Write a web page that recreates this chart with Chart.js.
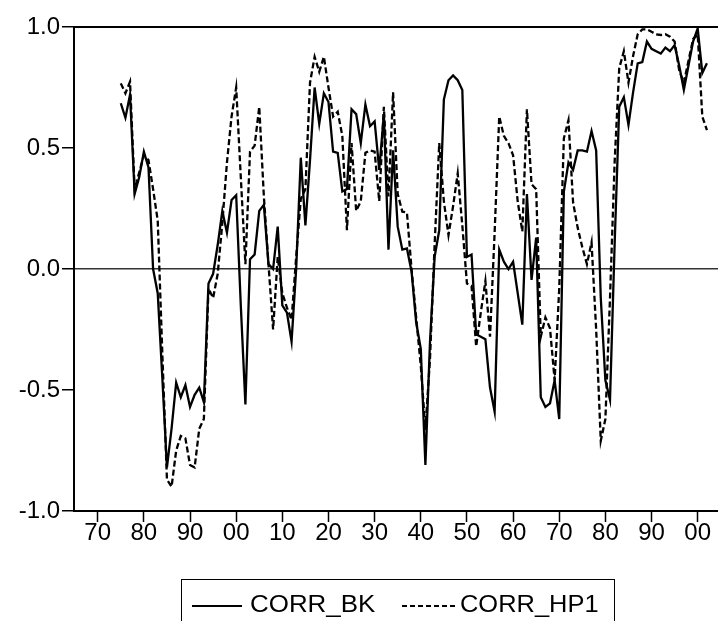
<!DOCTYPE html>
<html><head><meta charset="utf-8">
<script src="https://cdn.jsdelivr.net/npm/chart.js@4.4.1/dist/chart.umd.min.js"></script>
<style>html,body{margin:0;padding:0;background:#fff;overflow:hidden}
#wrap{position:relative;width:718px;height:621px}</style></head>
<body><div id="wrap"><canvas id="c" width="718" height="621"></canvas></div>
<script>
const years = [1875,1876,1877,1878,1879,1880,1881,1882,1883,1884,1885,1886,1887,1888,1889,1890,1891,1892,1893,1894,1895,1896,1897,1898,1899,1900,1901,1902,1903,1904,1905,1906,1907,1908,1909,1910,1911,1912,1913,1914,1915,1916,1917,1918,1919,1920,1921,1922,1923,1924,1925,1926,1927,1928,1929,1930,1931,1932,1933,1934,1935,1936,1937,1938,1939,1940,1941,1942,1943,1944,1945,1946,1947,1948,1949,1950,1951,1952,1953,1954,1955,1956,1957,1958,1959,1960,1961,1962,1963,1964,1965,1966,1967,1968,1969,1970,1971,1972,1973,1974,1975,1976,1977,1978,1979,1980,1981,1982,1983,1984,1985,1986,1987,1988,1989,1990,1991,1992,1993,1994,1995,1996,1997,1998,1999,2000,2001,2002];
const corrBK = [0.685,0.625,0.72,0.31,0.38,0.485,0.42,0.0,-0.10,-0.45,-0.82,-0.66,-0.47,-0.53,-0.48,-0.57,-0.52,-0.49,-0.55,-0.06,-0.02,0.10,0.24,0.15,0.285,0.305,-0.15,-0.56,0.04,0.06,0.24,0.265,0.02,0.0,0.175,-0.15,-0.18,-0.30,0.0,0.46,0.18,0.45,0.75,0.60,0.726,0.69,0.485,0.48,0.32,0.33,0.66,0.64,0.52,0.68,0.59,0.61,0.41,0.64,0.08,0.49,0.175,0.08,0.085,-0.01,-0.22,-0.33,-0.81,-0.30,0.05,0.16,0.70,0.78,0.80,0.78,0.74,0.05,0.06,-0.27,-0.28,-0.29,-0.49,-0.59,0.08,0.03,0.0,0.03,-0.10,-0.23,0.31,-0.045,0.13,-0.53,-0.57,-0.555,-0.46,-0.62,0.32,0.44,0.41,0.49,0.49,0.485,0.57,0.49,-0.12,-0.46,-0.54,0.10,0.67,0.71,0.595,0.73,0.85,0.855,0.94,0.91,0.90,0.89,0.915,0.90,0.925,0.84,0.74,0.84,0.94,0.994,0.81,0.85];
const corrHP1 = [0.767,0.726,0.774,0.33,0.40,0.47,0.45,0.33,0.20,-0.35,-0.87,-0.90,-0.75,-0.69,-0.70,-0.81,-0.82,-0.66,-0.62,-0.08,-0.12,-0.02,0.19,0.44,0.63,0.75,0.38,0.02,0.485,0.51,0.67,0.30,0.02,-0.25,0.05,-0.10,-0.16,-0.21,0.05,0.29,0.33,0.77,0.877,0.815,0.877,0.75,0.63,0.65,0.55,0.16,0.52,0.24,0.28,0.48,0.49,0.485,0.28,0.67,0.30,0.73,0.31,0.237,0.233,0.0,-0.20,-0.40,-0.665,-0.37,0.10,0.52,0.28,0.14,0.26,0.395,0.18,-0.06,-0.07,-0.32,-0.18,-0.05,-0.28,0.15,0.63,0.55,0.52,0.47,0.28,0.155,0.66,0.35,0.33,-0.28,-0.20,-0.245,-0.46,-0.08,0.54,0.615,0.275,0.17,0.09,0.02,0.11,-0.25,-0.71,-0.62,-0.12,0.44,0.83,0.90,0.77,0.88,0.97,0.99,0.99,0.98,0.97,0.967,0.97,0.96,0.94,0.82,0.77,0.86,0.95,0.97,0.63,0.574];
const tickYears = [1870,1880,1890,1900,1910,1920,1930,1940,1950,1960,1970,1980,1990,2000];
const tickLabels = ["70","80","90","00","10","20","30","40","50","60","70","80","90","00"];
const yTicks = [-1,-0.5,0,0.5,1];
const seriesNames = ["CORR_BK","CORR_HP1"];

const FONT = '"Liberation Sans", Arial, sans-serif';

function stretchText(ctx, text, x, y, sx) {
  ctx.save();
  ctx.translate(x, y);
  ctx.scale(sx, 1);
  ctx.fillText(text, 0, 0);
  ctx.restore();
}

const frameLegend = {
  id: 'frameLegend',
  afterDraw(chart) {
    const ctx = chart.ctx, a = chart.chartArea;
    ctx.save();
    ctx.strokeStyle = '#000';
    ctx.lineWidth = 2;
    ctx.beginPath();
    ctx.moveTo(a.left - 1, a.top);
    ctx.lineTo(a.right, a.top);
    ctx.stroke();
    // legend box
    ctx.lineWidth = 1;
    ctx.strokeRect(181.5, 579.5, 433, 60);
    ctx.font = '24px ' + FONT;
    ctx.fillStyle = '#000';
    ctx.textBaseline = 'alphabetic';
    ctx.lineWidth = 2;
    ctx.beginPath();
    ctx.moveTo(192, 606); ctx.lineTo(242, 606);
    ctx.stroke();
    stretchText(ctx, chart.data.datasets[0].label, 250, 611.5, 1.08);
    ctx.setLineDash([5, 3]);
    ctx.beginPath();
    ctx.moveTo(402, 606); ctx.lineTo(456, 606);
    ctx.stroke();
    ctx.setLineDash([]);
    stretchText(ctx, chart.data.datasets[1].label, 460, 611.5, 1.06);
    ctx.restore();
  }
};

new Chart(document.getElementById('c'), {
  type: 'line',
  data: {
    datasets: [
      { label: seriesNames[0], data: years.map((y, i) => ({x: y, y: corrBK[i]})),
        borderColor: '#000', borderWidth: 2.3, pointRadius: 0, tension: 0, fill: false },
      { label: seriesNames[1], data: years.map((y, i) => ({x: y, y: corrHP1[i]})),
        borderColor: '#000', borderWidth: 2.3, borderDash: [6, 3], pointRadius: 0, tension: 0, fill: false }
    ]
  },
  options: {
    responsive: false,
    animation: false,
    devicePixelRatio: 1,
    layout: { padding: { top: 27, right: 0, bottom: 0, left: 0 } },
    plugins: { legend: { display: false }, tooltip: { enabled: false } },
    scales: {
      x: {
        type: 'linear',
        min: 1864.86, max: 2004.4,
        afterBuildTicks: s => { s.ticks = tickYears.map(v => ({ value: v })); },
        afterFit: s => { s.height = 110; },
        ticks: {
          callback: (v) => { const i = tickYears.indexOf(v); return i >= 0 ? tickLabels[i] : ''; },
          font: { family: FONT, size: 24 }, color: '#000', padding: -3,
          maxRotation: 0, autoSkip: false
        },
        grid: { drawOnChartArea: false, drawTicks: true, tickLength: 11, tickColor: '#000', tickWidth: 1.5 },
        border: { display: true, color: '#000', width: 2 }
      },
      y: {
        min: -1, max: 1,
        afterBuildTicks: s => { s.ticks = yTicks.map(v => ({ value: v })); },
        afterFit: s => { s.width = 74; },
        ticks: {
          callback: v => Number(v).toFixed(1),
          font: { family: FONT, size: 24 }, color: '#000', padding: 2
        },
        grid: {
          drawOnChartArea: true, drawTicks: true, tickLength: 12, tickColor: '#000', tickWidth: 1.5,
          color: c => (c.tick && c.tick.value === 0) ? '#333' : 'rgba(0,0,0,0)',
          lineWidth: 1.5
        },
        border: { display: true, color: '#000', width: 2 }
      }
    }
  },
  plugins: [frameLegend]
});
</script>
</body></html>
